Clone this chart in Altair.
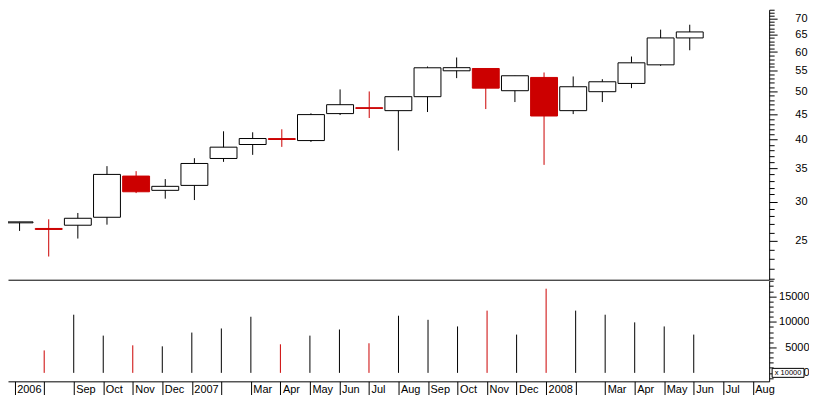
import json
import altair as alt
import pandas as pd

# ---- data (monthly candles, Jul 2006 .. Jun 2008) ----
month_labels = ["2006", "", "Sep", "Oct", "Nov", "Dec", "2007", "", "Mar", "Apr",
                "May", "Jun", "Jul", "Aug", "Sep", "Oct", "Nov", "Dec", "2008", "",
                "Mar", "Apr", "May", "Jun", "Jul", "Aug"]

opens = [27.18, 26.48, 26.88, 27.89, 33.76, 31.60, 32.33, 36.63, 39.08, 40.16,
         39.80, 45.10, 46.35, 45.72, 48.78, 55.00, 55.59, 50.15, 53.33, 45.72,
         49.92, 51.87, 56.54, 64.05]
highs = [27.30, 27.63, 28.45, 35.35, 34.54, 33.29, 36.68, 41.55, 41.36, 41.94,
         45.16, 50.45, 49.98, 48.78, 56.10, 58.50, 55.59, 53.75, 54.57, 53.57,
         52.90, 58.76, 66.56, 68.10]
lows = [26.18, 23.25, 25.27, 26.95, 31.20, 30.40, 30.21, 36.06, 37.25, 38.65,
        39.55, 44.80, 44.19, 38.00, 45.43, 53.16, 46.06, 47.58, 35.56, 45.00,
        47.58, 50.75, 56.28, 60.49]
closes = [27.30, 26.36, 27.76, 34.02, 31.39, 32.19, 35.79, 38.60, 40.18, 40.00,
          44.89, 47.00, 46.20, 48.78, 55.77, 55.80, 50.75, 53.75, 44.60, 51.08,
          52.27, 57.07, 64.05, 65.86]
volumes = [0, 4400, 11400, 7300, 5400, 5200, 7900, 8700, 11000, 5600,
           7300, 8500, 5800, 11200, 10400, 9100, 12200, 7500, 16500, 12200,
           11400, 9900, 9100, 7500]

price_ticks = list(range(21, 74))
price_major = [25, 30, 35, 40, 45, 50, 55, 60, 65, 70]
volume_ticks = list(range(-1000, 18001, 1000))
volume_major = [0, 5000, 10000, 15000]

n = len(opens)
df = pd.DataFrame({
    "i": list(range(n)),
    "open": opens, "high": highs, "low": lows, "close": closes,
    "volume": volumes,
})
df["dir"] = ["down" if c < o else "up" for o, c in zip(opens, closes)]

X_DOMAIN = [-0.226, 25.554]
PRICE_DOMAIN = [20.88, 73.0]
VOL_DOMAIN = [-1660, 18066]
FONT = "Liberation Sans"
W = 764

x_scale = alt.Scale(domain=X_DOMAIN, nice=False, zero=False)

stroke_scale = alt.Scale(domain=["up", "down"], range=["#000000", "#cc0000"])
fill_scale = alt.Scale(domain=["up", "down"], range=["#ffffff", "#cc0000"])

price_test = "indexof(%s, datum.value) >= 0" % json.dumps(price_major)
price_axis = alt.Axis(
    orient="right", values=price_ticks, title=None, grid=False,
    labelExpr="%s ? '' + datum.value : ''" % price_test,
    tickSize={"condition": {"test": "datum.value % 5 === 0", "value": 8}, "value": 5},
    labelFontSize={"condition": {"test": price_test, "value": 11}, "value": 0},
    tickColor="black", tickWidth=1, domainColor="black", domainWidth=1,
    labelColor="black", labelFont=FONT,
    labelAlign="right", labelPadding=30, labelOverlap=False, labelFlush=False,
)

x_price = alt.X("i:Q", scale=x_scale,
                axis=alt.Axis(title=None, labels=False, ticks=False, grid=False,
                              domain=True, domainColor="black", domainWidth=1))

base = alt.Chart(df)

wicks = base.mark_rule(strokeWidth=1, clip=True).encode(
    x=x_price,
    y=alt.Y("low:Q", scale=alt.Scale(type="log", domain=PRICE_DOMAIN, nice=False),
            axis=price_axis),
    y2="high:Q",
    stroke=alt.Stroke("dir:N", scale=stroke_scale, legend=None),
)

bodies = base.mark_bar(size=27, strokeWidth=1, clip=True).encode(
    x="i:Q",
    y="open:Q",
    y2="close:Q",
    fill=alt.Fill("dir:N", scale=fill_scale, legend=None),
    stroke=alt.Stroke("dir:N", scale=stroke_scale, legend=None),
)

price_panel = alt.layer(wicks, bodies).properties(width=W, height=271)

vol_test = "indexof(%s, datum.value) >= 0" % json.dumps(volume_major)
vol_axis = alt.Axis(
    orient="right", values=volume_ticks, title=None, grid=False,
    labelExpr="%s ? '' + datum.value : ''" % vol_test,
    tickSize={"condition": {"test": "datum.value % 5000 === 0", "value": 7}, "value": 4},
    labelFontSize={"condition": {"test": vol_test, "value": 11}, "value": 0},
    tickColor="black", tickWidth=1, domainColor="black", domainWidth=1,
    labelColor="black", labelFont=FONT,
    labelAlign="right", labelPadding=33, labelOverlap=False, labelFlush=False,
)

x_vol = alt.X(
    "i:Q", scale=x_scale,
    axis=alt.Axis(
        title=None, grid=False, values=list(range(len(month_labels))),
        labelExpr="%s[datum.value]" % json.dumps(month_labels),
        tickSize=14, tickColor="black", tickWidth=1,
        domainColor="black", domainWidth=1,
        labelColor="black", labelFont=FONT, labelFontSize=11,
        labelAlign="left", labelBaseline="top", labelPadding=-12, labelOffset=2,
        labelOverlap=False, labelFlush=False,
    ),
)

vol_stroke_scale = alt.Scale(domain=["up", "down"], range=["#666666", "#ff0000"])

vol_rules = base.mark_rule(strokeWidth=1).encode(
    x=x_vol,
    y=alt.Y("volume:Q", scale=alt.Scale(domain=VOL_DOMAIN, nice=False, zero=False),
            axis=vol_axis),
    y2=alt.datum(0),
    stroke=alt.Stroke("dir:N", scale=vol_stroke_scale, legend=None),
)

unit_df = pd.DataFrame({"label": ["x 10000"]})
unit_box = alt.Chart(unit_df).mark_rect(fill="white", stroke="black", strokeWidth=1).encode(
    x=alt.value(767), x2=alt.value(799), y=alt.value(88), y2=alt.value(97)
)
unit_text = alt.Chart(unit_df).mark_text(
    font=FONT, fontSize=7.5, color="black", align="center", baseline="middle"
).encode(x=alt.value(783), y=alt.value(92.5), text="label:N")

volume_panel = alt.layer(vol_rules, unit_box, unit_text).properties(width=W, height=101)

chart = alt.vconcat(price_panel, volume_panel, spacing=0).properties(
    padding=0, background="white"
).configure_view(stroke=None)

chart.save("out.html", embed_options={"renderer": "svg", "actions": False})
